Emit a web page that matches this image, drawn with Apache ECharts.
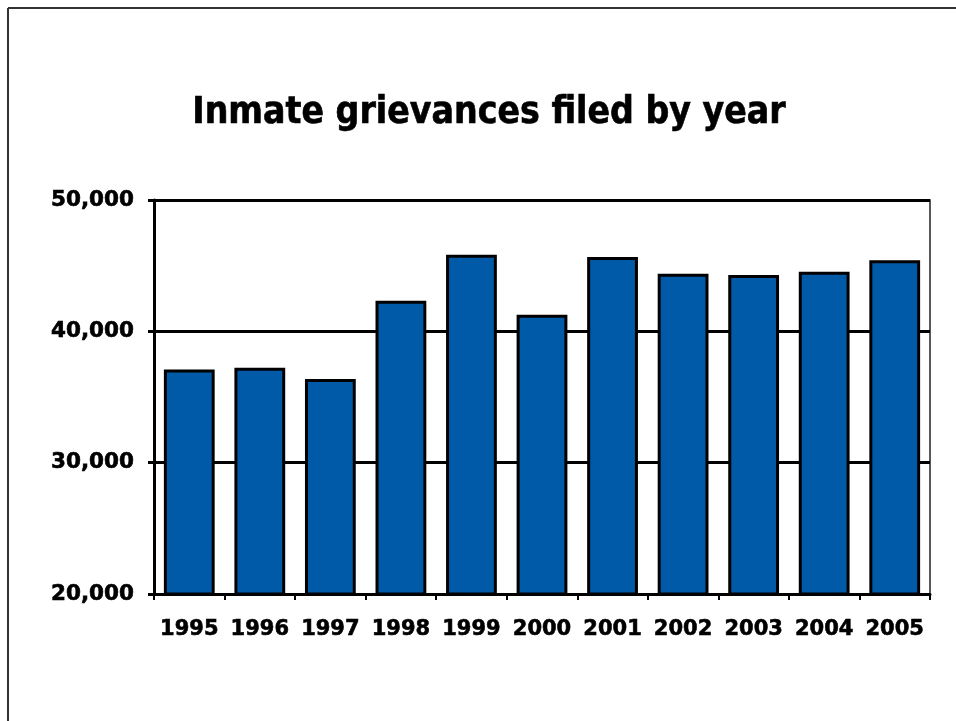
<!DOCTYPE html>
<html>
<head>
<meta charset="utf-8">
<script src="https://cdn.jsdelivr.net/npm/echarts@6/dist/echarts.min.js"></script>
<style>
  html, body { margin: 0; padding: 0; background: #fff; }
  #chart { width: 956px; height: 721px; }
</style>
</head>
<body>
<div id="chart"></div>
<script>
// Grievances filed per year
const years = ['1995', '1996', '1997', '1998', '1999', '2000', '2001', '2002', '2003', '2004', '2005'];
const grievances = [37100, 37230, 36380, 42330, 45840, 41270, 45660, 44390, 44290, 44540, 45410];
const yTicks = { min: 20000, max: 50000, step: 10000 };
const titleText = 'Inmate grievances filed by year';

const FONT = '"DejaVu Sans", Verdana, sans-serif';
const TITLE_FONT = '"DejaVu Sans Condensed", Tahoma, "DejaVu Sans", sans-serif';
const chart = echarts.init(document.getElementById('chart'), null, { renderer: 'canvas' });

// slight stroke to give the labels a heavier bold
const heavy = { textBorderColor: '#000', textBorderWidth: 0.6 };

chart.setOption({
  backgroundColor: '#ffffff',
  animation: false,
  title: {
    text: titleText,
    left: 484,
    top: 90,
    textAlign: 'center',
    textStyle: Object.assign({ fontFamily: TITLE_FONT, fontWeight: 'bold', fontSize: 37, color: '#000' }, heavy)
  },
  // slide frame along the top and left edges
  graphic: [
    { type: 'line', shape: { x1: 8, y1: 8, x2: 956, y2: 8 }, style: { stroke: '#333', lineWidth: 2 } },
    { type: 'line', shape: { x1: 8, y1: 8, x2: 8, y2: 721 }, style: { stroke: '#333', lineWidth: 2 } }
  ],
  grid: {
    left: 154, top: 200, right: 26, bottom: 127,
    show: true, borderColor: '#222', borderWidth: 1.5, backgroundColor: 'transparent'
  },
  xAxis: {
    type: 'category',
    data: years,
    boundaryGap: true,
    axisLine: { lineStyle: { color: '#000', width: 3 } },
    axisTick: { show: true, length: 6, interval: 0, lineStyle: { color: '#000', width: 2 } },
    axisLabel: Object.assign({ interval: 0, margin: 25, fontFamily: FONT, fontWeight: 'bold', fontSize: 21, color: '#000' }, heavy),
    splitLine: { show: false }
  },
  yAxis: {
    type: 'value',
    min: yTicks.min, max: yTicks.max, interval: yTicks.step,
    axisLine: { show: true, lineStyle: { color: '#000', width: 3 } },
    axisTick: { show: true, length: 6, lineStyle: { color: '#000', width: 3 } },
    axisLabel: Object.assign({
      margin: 20, fontFamily: FONT, fontWeight: 'bold', fontSize: 21.5, color: '#000',
      formatter: v => v.toLocaleString('en-US')
    }, heavy),
    splitLine: { show: true, lineStyle: { color: '#000', width: 3 } }
  },
  series: [{
    type: 'bar',
    data: grievances,
    barWidth: '72%',
    itemStyle: { color: '#005AA8', borderColor: '#000', borderWidth: 3 }
  }]
});
</script>
</body>
</html>
